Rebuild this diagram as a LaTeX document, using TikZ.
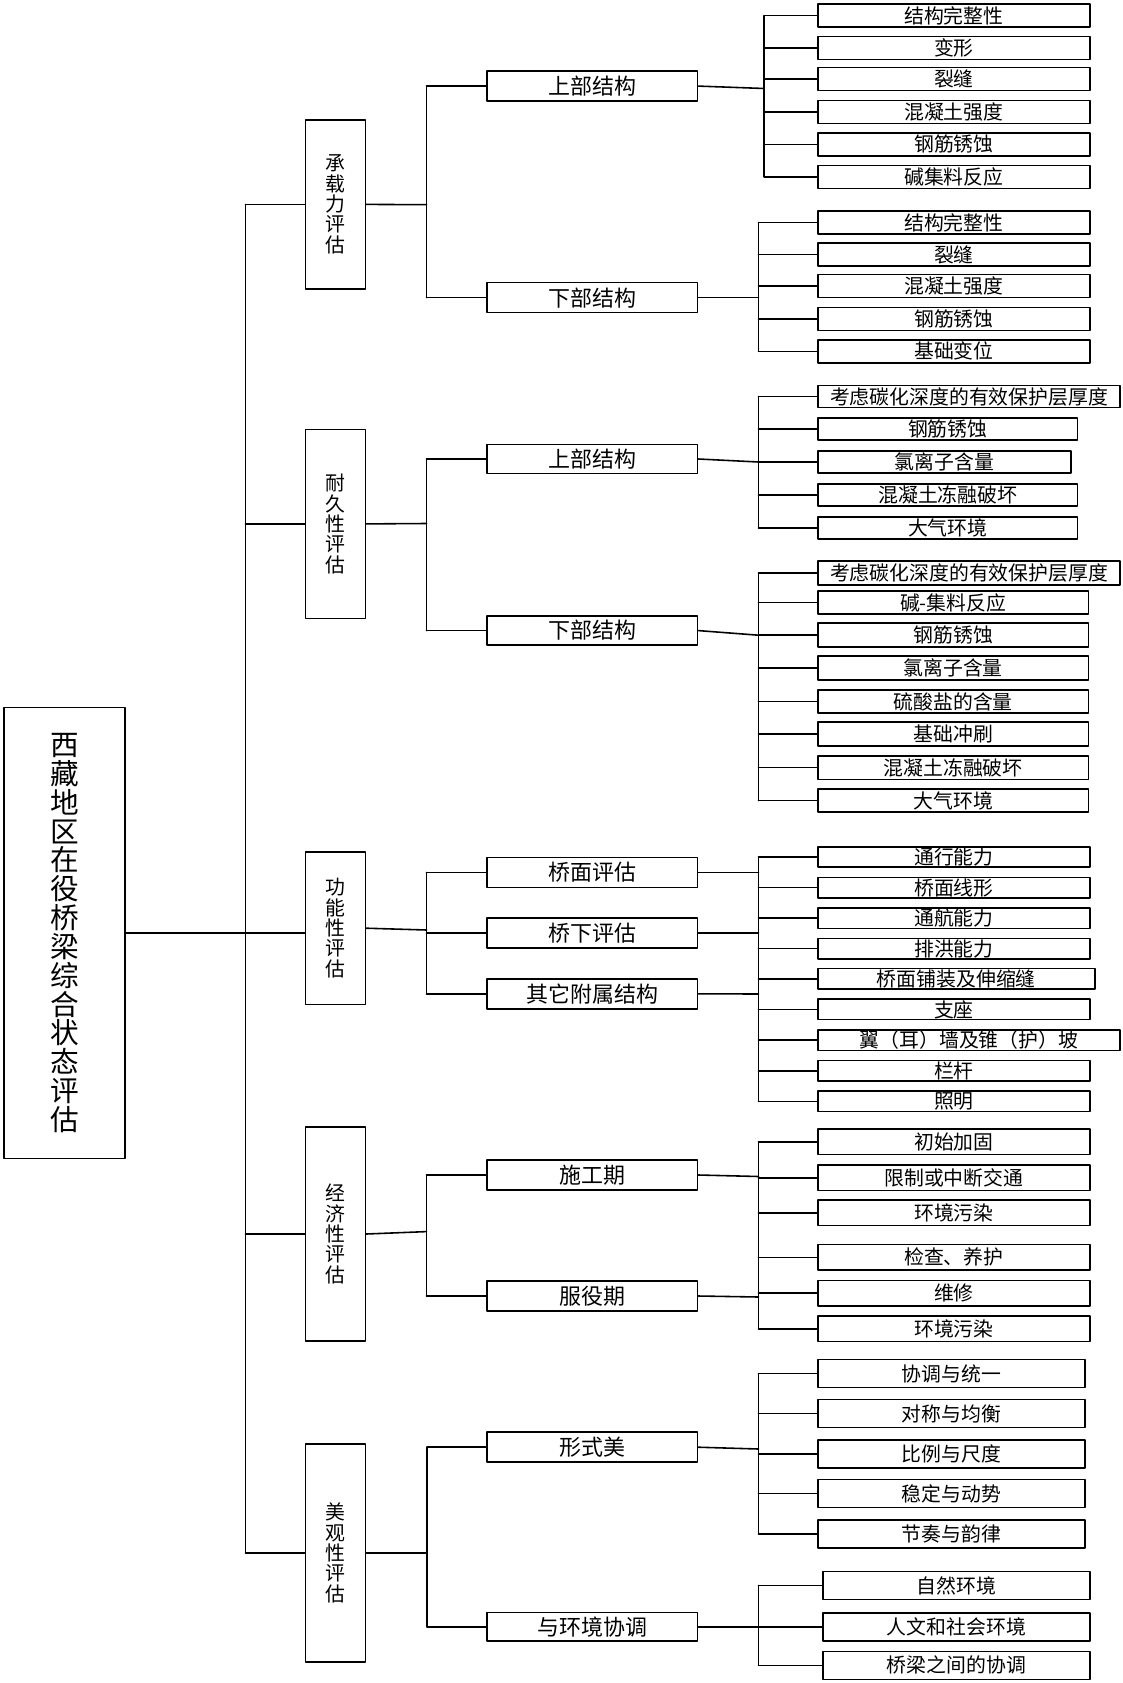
\documentclass[tikz,border=0pt]{standalone}
\usepackage{fontspec}
\newfontfamily\cjk{Noto Sans CJK SC}
\usepackage{tikz}
\usetikzlibrary{positioning}
\usetikzlibrary{calc}

\tikzset{
  box/.style={draw, line width=0.9pt, inner sep=0pt, align=center},
  rootbox/.style={box, font=\cjk\fontsize{16.3pt}{16.4pt}\selectfont, minimum width=2.42cm, minimum height=9.02cm},
  aspect/.style={box, font=\cjk\fontsize{11.3pt}{11.6pt}\selectfont, minimum width=1.2cm},
  part/.style={box, font=\cjk\fontsize{12.5pt}{13pt}\selectfont, minimum width=4.22cm, minimum height=0.6cm},
  leaf/.style={box, font=\cjk\fontsize{11.3pt}{12pt}\selectfont, minimum width=5.436cm},
  link/.style={line width=0.9pt},
}

\begin{document}
\begin{tikzpicture}[x=0.02cm,y=-0.02cm,line cap=round,line join=round]
\useasboundingbox (0,0) rectangle (1122,1683);
% root and the five aspects
\node[rootbox] (root) at (64.5,933) {西\\藏\\地\\区\\在\\役\\桥\\梁\\综\\合\\状\\态\\评\\估};
\node[aspect, minimum height=3.38cm] (cap) at (335.5,204.4) {承\\载\\力\\评\\估};
\node[aspect, minimum height=3.78cm] (dur) at (335.5,523.9) {耐\\久\\性\\评\\估};
\node[aspect, minimum height=3.06cm] (fun) at (335.5,928.2) {功\\能\\性\\评\\估};
\node[aspect, minimum height=4.28cm] (eco) at (335.5,1234) {经\\济\\性\\评\\估};
\node[aspect, minimum height=4.36cm] (aes) at (335.5,1553) {美\\观\\性\\评\\估};
% second level
\node[part] (capU) at (592.2,86.1) {上部结构};
\node[part] (capD) at (592.2,297.7) {下部结构};
\node[part, minimum height=0.575cm] (durU) at (592.2,459) {上部结构};
\node[part, minimum height=0.575cm] (durD) at (592.2,630.6) {下部结构};
\node[part] (funA) at (592.2,872.5) {桥面评估};
\node[part] (funB) at (592.2,933) {桥下评估};
\node[part] (funC) at (592.2,993.8) {其它附属结构};
\node[part] (ecoA) at (592.2,1175) {施工期};
\node[part] (ecoB) at (592.2,1296) {服役期};
\node[part] (aesA) at (592.2,1447.2) {形式美};
\node[part, minimum height=0.565cm] (aesB) at (592.2,1626.7) {与环境协调};
% leaves, bearing capacity
\node[leaf, minimum height=0.46cm] (capU1) at (953.9,15.7) {结构完整性};
\node[leaf, minimum height=0.46cm] (capU2) at (953.9,47.9) {变形};
\node[leaf, minimum height=0.46cm] (capU3) at (953.9,79.2) {裂缝};
\node[leaf, minimum height=0.46cm] (capU4) at (953.9,112.1) {混凝土强度};
\node[leaf, minimum height=0.46cm] (capU5) at (953.9,144.3) {钢筋锈蚀};
\node[leaf, minimum height=0.46cm] (capU6) at (953.9,176.8) {碱集料反应};
\node[leaf, minimum height=0.46cm] (capD1) at (953.9,222.4) {结构完整性};
\node[leaf, minimum height=0.46cm] (capD2) at (953.9,254.5) {裂缝};
\node[leaf, minimum height=0.46cm] (capD3) at (953.9,285.9) {混凝土强度};
\node[leaf, minimum height=0.46cm] (capD4) at (953.9,318.8) {钢筋锈蚀};
\node[leaf, minimum height=0.46cm] (capD5) at (953.9,351.3) {基础变位};
% leaves, durability
\node[leaf, minimum height=0.44cm, minimum width=6.04cm] (durU1) at (969,396.5) {考虑碳化深度的有效保护层厚度};
\node[leaf, minimum height=0.44cm, minimum width=5.19cm] (durU2) at (947.8,429) {钢筋锈蚀};
\node[leaf, minimum height=0.44cm, minimum width=5.06cm] (durU3) at (944.5,462) {氯离子含量};
\node[leaf, minimum height=0.44cm, minimum width=5.19cm] (durU4) at (947.8,495) {混凝土冻融破坏};
\node[leaf, minimum height=0.44cm, minimum width=5.19cm] (durU5) at (947.8,528) {大气环境};
\node[leaf, minimum height=0.47cm, minimum width=6.04cm] (durD1) at (969,573) {考虑碳化深度的有效保护层厚度};
\node[leaf, minimum height=0.47cm, minimum width=5.41cm] (durD2) at (953.2,602.5) {碱-集料反应};
\node[leaf, minimum height=0.47cm, minimum width=5.41cm] (durD3) at (953.2,635) {钢筋锈蚀};
\node[leaf, minimum height=0.47cm, minimum width=5.41cm] (durD4) at (953.2,668) {氯离子含量};
\node[leaf, minimum height=0.47cm, minimum width=5.41cm] (durD5) at (953.2,701.5) {硫酸盐的含量};
\node[leaf, minimum height=0.47cm, minimum width=5.41cm] (durD6) at (953.2,734) {基础冲刷};
\node[leaf, minimum height=0.47cm, minimum width=5.41cm] (durD7) at (953.2,767.6) {混凝土冻融破坏};
\node[leaf, minimum height=0.47cm, minimum width=5.41cm] (durD8) at (953.2,800.5) {大气环境};
% leaves, function
\node[leaf, minimum height=0.41cm] (fun1) at (953.9,857) {通行能力};
\node[leaf, minimum height=0.41cm] (fun2) at (953.9,887.6) {桥面线形};
\node[leaf, minimum height=0.41cm] (fun3) at (953.9,918.2) {通航能力};
\node[leaf, minimum height=0.41cm] (fun4) at (953.9,948.6) {排洪能力};
\node[leaf, minimum height=0.41cm, minimum width=5.54cm] (fun5) at (956.4,978.8) {桥面铺装及伸缩缝};
\node[leaf, minimum height=0.41cm] (fun6) at (953.9,1009.4) {支座};
\node[leaf, minimum height=0.41cm, minimum width=6.04cm] (fun7) at (969,1040.1) {翼（耳）墙及锥（护）坡};
\node[leaf, minimum height=0.41cm] (fun8) at (953.9,1070.7) {栏杆};
\node[leaf, minimum height=0.41cm] (fun9) at (953.9,1101.3) {照明};
% leaves, economy
\node[leaf, minimum height=0.51cm] (eco1) at (953.9,1141.7) {初始加固};
\node[leaf, minimum height=0.51cm] (eco2) at (953.9,1177.9) {限制或中断交通};
\node[leaf, minimum height=0.51cm] (eco3) at (953.9,1212.7) {环境污染};
\node[leaf, minimum height=0.51cm] (eco4) at (953.9,1257.3) {检查、养护};
\node[leaf, minimum height=0.51cm] (eco5) at (953.9,1293.1) {维修};
\node[leaf, minimum height=0.51cm] (eco6) at (953.9,1328.7) {环境污染};
% leaves, aesthetics
\node[leaf, minimum height=0.56cm, minimum width=5.336cm] (aesA1) at (951.4,1373.6) {协调与统一};
\node[leaf, minimum height=0.56cm, minimum width=5.336cm] (aesA2) at (951.4,1413.6) {对称与均衡};
\node[leaf, minimum height=0.56cm, minimum width=5.336cm] (aesA3) at (951.4,1453.7) {比例与尺度};
\node[leaf, minimum height=0.56cm, minimum width=5.336cm] (aesA4) at (951.4,1493.5) {稳定与动势};
\node[leaf, minimum height=0.56cm, minimum width=5.336cm] (aesA5) at (951.4,1533.7) {节奏与韵律};
\node[leaf, minimum height=0.56cm, minimum width=5.336cm] (aesB1) at (956.4,1585.5) {自然环境};
\node[leaf, minimum height=0.56cm, minimum width=5.336cm] (aesB2) at (956.4,1626.7) {人文和社会环境};
\node[leaf, minimum height=0.56cm, minimum width=5.336cm] (aesB3) at (956.4,1665.3) {桥梁之间的协调};
% junctions
\coordinate (trunk) at (245.4,933);
\coordinate (jcap) at (426.5,204.7);
\coordinate (jdur) at (426.5,523.5);
\coordinate (jfun) at (426.5,930);
\coordinate (jeco) at (426.5,1231.6);
\coordinate (jaes) at (427,1553);
\coordinate (kcapU) at (764.2,88.5);
\coordinate (kcapD) at (758.5,297.7);
\coordinate (kdurU) at (758.5,462);
\coordinate (kdurD) at (758.5,635.2);
\coordinate (kfunA) at (758.5,872.5);
\coordinate (kfunB) at (758.5,933);
\coordinate (kfunC) at (758.5,994);
\coordinate (kecoA) at (758.5,1176.5);
\coordinate (kecoB) at (758.5,1297);
\coordinate (kaesA) at (758.5,1449);
\coordinate (kaesB) at (758.5,1626.7);
% first level links
\draw[link] (root.east) -- (root.east -| fun.west);
\draw[link] (trunk |- cap.west) -- (trunk |- aes.west);
\foreach \c in {cap,dur,eco,aes} \draw[link] (trunk |- \c.west) -- (\c.west);
% second level links
\draw[link] (cap.east) -- (jcap);
\draw[link] (jcap |- capU.west) -- (jcap |- capD.west);
\foreach \p in {capU,capD} \draw[link] (jcap |- \p.west) -- (\p.west);
\draw[link] (dur.east) -- (jdur);
\draw[link] (jdur |- durU.west) -- (jdur |- durD.west);
\foreach \p in {durU,durD} \draw[link] (jdur |- \p.west) -- (\p.west);
\draw[link] (fun.east) -- (jfun);
\draw[link] (jfun |- funA.west) -- (jfun |- funC.west);
\foreach \p in {funA,funB,funC} \draw[link] (jfun |- \p.west) -- (\p.west);
\draw[link] (eco.east) -- (jeco);
\draw[link] (jeco |- ecoA.west) -- (jeco |- ecoB.west);
\foreach \p in {ecoA,ecoB} \draw[link] (jeco |- \p.west) -- (\p.west);
\draw[link] (aes.east) -- (jaes);
\draw[link] (jaes |- aesA.west) -- (jaes |- aesB.west);
\foreach \p in {aesA,aesB} \draw[link] (jaes |- \p.west) -- (\p.west);
% third level links
\foreach \p in {capU,capD,durU,durD,funA,funB,funC,ecoA,ecoB,aesA,aesB} \draw[link] (\p.east) -- (k\p);
\draw[link] (kcapU |- capU1.west) -- (kcapU |- capU6.west);
\foreach \i in {1,...,6} \draw[link] (kcapU |- capU\i.west) -- (capU\i.west);
\draw[link] (kcapD |- capD1.west) -- (kcapD |- capD5.west);
\foreach \i in {1,...,5} \draw[link] (kcapD |- capD\i.west) -- (capD\i.west);
\draw[link] (kdurU |- durU1.west) -- (kdurU |- durU5.west);
\foreach \i in {1,...,5} \draw[link] (kdurU |- durU\i.west) -- (durU\i.west);
\draw[link] (kdurD |- durD1.west) -- (kdurD |- durD8.west);
\foreach \i in {1,...,8} \draw[link] (kdurD |- durD\i.west) -- (durD\i.west);
\draw[link] (kfunA |- fun1.west) -- (kfunA |- fun9.west);
\foreach \i in {1,...,9} \draw[link] (kfunA |- fun\i.west) -- (fun\i.west);
\draw[link] (kecoA |- eco1.west) -- (kecoA |- eco6.west);
\foreach \i in {1,...,6} \draw[link] (kecoA |- eco\i.west) -- (eco\i.west);
\draw[link] (kaesA |- aesA1.west) -- (kaesA |- aesA5.west);
\foreach \i in {1,...,5} \draw[link] (kaesA |- aesA\i.west) -- (aesA\i.west);
\draw[link] (kaesB |- aesB1.west) -- (kaesB |- aesB3.west);
\foreach \i in {1,...,3} \draw[link] (kaesB |- aesB\i.west) -- (aesB\i.west);
\end{tikzpicture}
\end{document}
